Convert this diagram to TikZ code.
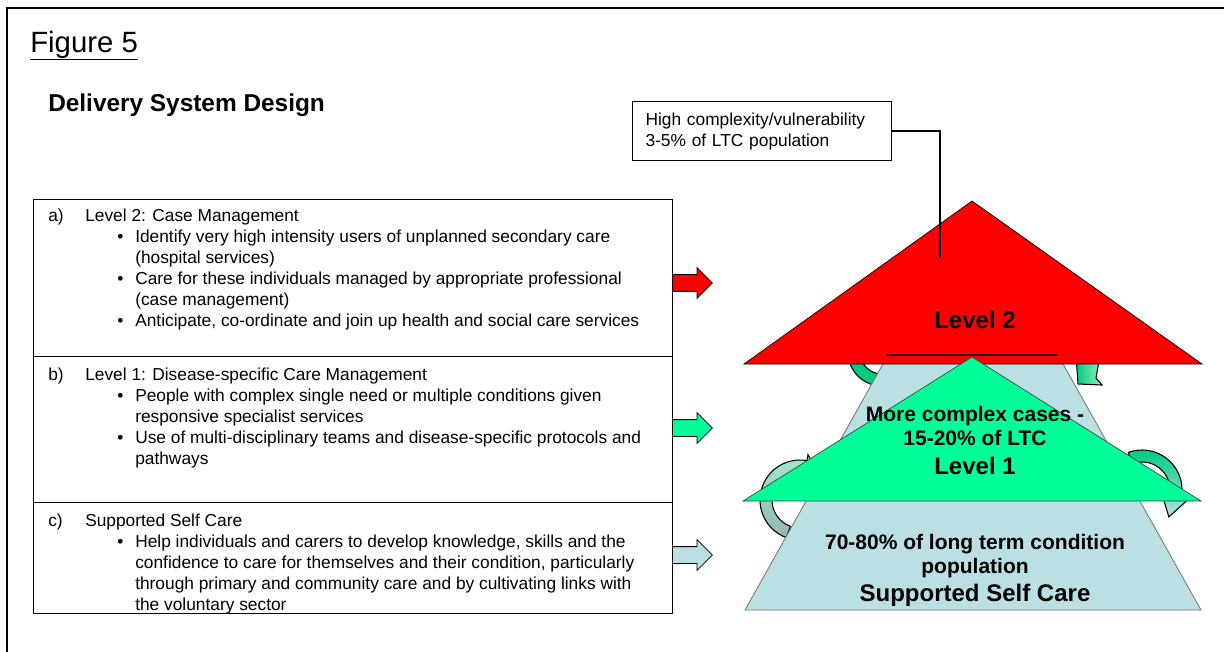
\documentclass[tikz,border=0pt]{standalone}
\usepackage{fontspec}
\setmainfont{Liberation Sans}
\usetikzlibrary{shapes.arrows}
\definecolor{lvlred}{RGB}{255,0,0}
\definecolor{lvlgreen}{RGB}{0,255,153}
\definecolor{lvlblue}{RGB}{186,224,227}
\definecolor{loopgreen}{RGB}{0,204,128}
\definecolor{looplight}{RGB}{150,238,190}
\definecolor{loopgrey}{RGB}{150,182,185}
\definecolor{loopaqua}{RGB}{160,232,200}

\begin{document}
\begin{tikzpicture}[x=0.75pt, y=-0.75pt,
      body/.style={font=\fontsize{13}{15.75}\selectfont, inner sep=0pt, align=left},
      tier/.style={font=\bfseries\fontsize{15.75}{18}\selectfont, inner sep=0pt, align=center},
      tiername/.style={font=\bfseries\fontsize{18}{21}\selectfont, inner sep=0pt},
      panel/.style={draw, line width=0.9pt, anchor=north west, inner sep=0pt, minimum width={639*0.75pt}},
      pointer/.style={single arrow, draw=black, line width=0.6pt, inner xsep=0pt, inner ysep=6pt, anchor=tail,
        minimum height=30pt, minimum width=22.5pt, single arrow head extend=5.25pt},
      loop/.style={draw=black, line width=0.8pt}]

      \fill[white] (0,0) rectangle (1224,652);
      \useasboundingbox (0,0) rectangle (1224,652);
      \draw[line width=1.5pt] (7,652) -- (7,8) -- (1224,8);

      \node[anchor=base west, inner sep=0pt, font=\fontsize{22}{26}\selectfont] (figtitle) at (30,53) {Figure 5};
      \draw[line width=1.2pt] (figtitle.south west) -- (figtitle.south east);
      \node[anchor=base west, inner sep=0pt, font=\bfseries\fontsize{18.3}{22}\selectfont] (design) at (48,112) {Delivery System Design};

      \node[panel, minimum height={157*0.75pt}] (panela) at (33,199) {};
      \node[panel, minimum height={146*0.75pt}] (panelb) at (33,356) {};
      \node[panel, minimum height={111*0.75pt}] (panelc) at (33,502) {};

      \node[body, anchor=base west] (texta) at (48,222) {\begin{tabular}[t]{@{}p{27.75pt}@{}p{24pt}@{}p{13.5pt}@{}l@{}}
        a) & \multicolumn{3}{@{}l@{}}{Level 2: Case Management}\\
        & & \textbullet & Identify very high intensity users of unplanned secondary care\\
        & & & (hospital services)\\
        & & \textbullet & Care for these individuals managed by appropriate professional\\
        & & & (case management)\\
        & & \textbullet & Anticipate, co-ordinate and join up health and social care services
      \end{tabular}};
      \node[body, anchor=base west] (textb) at (48,380) {\begin{tabular}[t]{@{}p{27.75pt}@{}p{24pt}@{}p{13.5pt}@{}l@{}}
        b) & \multicolumn{3}{@{}l@{}}{Level 1: Disease-specific Care Management}\\
        & & \textbullet & People with complex single need or multiple conditions given\\
        & & & responsive specialist services\\
        & & \textbullet & Use of multi-disciplinary teams and disease-specific protocols and\\
        & & & pathways
      \end{tabular}};
      \node[body, anchor=base west] (textc) at (48,526) {\begin{tabular}[t]{@{}p{27.75pt}@{}p{24pt}@{}p{13.5pt}@{}l@{}}
        c) & \multicolumn{3}{@{}l@{}}{Supported Self Care}\\
        & & \textbullet & Help individuals and carers to develop knowledge, skills and the\\
        & & & confidence to care for themselves and their condition, particularly\\
        & & & through primary and community care and by cultivating links with\\
        & & & the voluntary sector
      \end{tabular}};

      \node[pointer, fill=lvlred] (ptra) at (672,283) {};
      \node[pointer, fill=lvlgreen] (ptrb) at (672,428) {};
      \node[pointer, fill=lvlblue] (ptrc) at (672,555) {};

      \draw[loop, fill=loopgreen] plot[domain=60:200, samples=30] ({882+34*cos(\x)},{352+34*sin(\x)})
        -- plot[domain=200:60, samples=30] ({882+22*cos(\x)},{352+22*sin(\x)}) -- cycle;
      \draw[loop, left color=loopgreen, right color=looplight] (1076,355) -- (1078,384) -- (1102,385)
        -- (1096,378) -- (1100,355) -- cycle;
      \draw[loop, top color=loopaqua, bottom color=loopgrey]
        plot[domain=110:280, samples=30] ({800+40*cos(\x)},{500+40*sin(\x)})
        -- ({800+46*cos(280)},{500+46*sin(280)}) -- ({800+34*cos(300)},{500+34*sin(300)})
        -- ({800+22*cos(280)},{500+22*sin(280)})
        -- plot[domain=280:110, samples=30] ({800+28*cos(\x)},{500+28*sin(\x)}) -- cycle;
      \draw[loop, top color=loopgreen, bottom color=lvlblue]
        plot[domain=250:370, samples=30] ({1142+40*cos(\x)},{490+40*sin(\x)})
        -- ({1142+48*cos(370)},{490+48*sin(370)}) -- ({1142+38*cos(45)},{490+38*sin(45)})
        -- ({1142+20*cos(370)},{490+20*sin(370)})
        -- plot[domain=370:250, samples=30] ({1142+28*cos(\x)},{490+28*sin(\x)}) -- cycle;

      \draw[draw=black!55, fill=lvlblue, line width=0.6pt] (745,610) -- (888,355) -- (1058,355) -- (1201,610) -- cycle;
      \draw[draw=black, fill=lvlred, line width=0.5pt] (744,364) -- (972,201) -- (1202,364) -- cycle;
      \draw[draw=black!80!red, line width=0.8pt] (887,355) -- (1058,355);
      \draw[draw=black!75, fill=lvlgreen, line width=0.5pt] (743,501) -- (972,357) -- (1201,501) -- cycle;

      \node[body, draw, line width=0.8pt, anchor=north west, text width=175pt, inner xsep=9.75pt,
        minimum height={59*0.75pt}] (callout) at (632,101) {High complexity/vulnerability\\3-5\% of LTC population};
      \coordinate (redtip) at (940,258);
      \draw[line width=0.8pt] (callout.east) -| (redtip);

      \node[tiername, anchor=base] (lvltwo) at (975,328.6) {Level 2};
      \node[tier, anchor=base] (cplx) at (975,445.5) {More complex cases -\\15-20\% of LTC};
      \node[tiername, anchor=base] (lvlone) at (975,474.6) {Level 1};
      \node[tier, anchor=base] (pop) at (975,573.5) {70-80\% of long term condition\\population};
      \node[tiername, anchor=base] (selfcare) at (975,601.6) {Supported Self Care};
    \end{tikzpicture}
\end{document}
